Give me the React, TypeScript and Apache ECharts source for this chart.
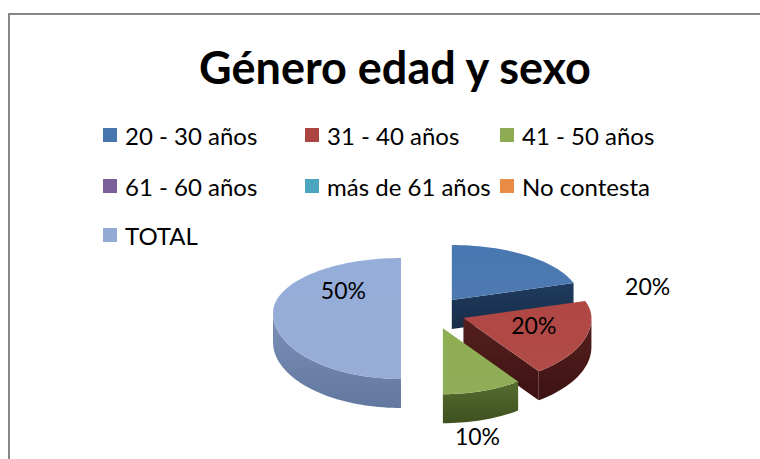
import React, { useEffect, useRef } from "react";
import * as echarts from "echarts";

const categories = [
  "20 - 30 años",
  "31 - 40 años",
  "41 - 50 años",
  "61 - 60 años",
  "más de 61 años",
  "No contesta",
  "TOTAL",
];
const values = [2, 2, 1, 0, 0, 0, 5];
const percentLabels = ["20%", "20%", "10%", "0%", "0%", "0%", "50%"];
const topColors = ["#4775ae", "#ad4542", "#8cab52", "#7a5f9b", "#4aa6be", "#e88c45", "#93aad5"];
const sideColors = ["#1f3b5e", "#55201e", "#566c2e", "#3f3050", "#245663", "#7b4a22", "#7a90b9"];
const sideDark = ["#172c47", "#3d1212", "#3e5120", "#2d2239", "#173c45", "#5a3516", "#63789e"];

// label placement (in ellipse-normalized units from each slice's apex)
const labelOffsets: [number, number][] = [
  [1.53, -0.25],
  [0.55, 0.1],
  [0.27, 1.64],
  [0, 0],
  [0, 0],
  [0, 0],
  [-0.45, -0.42],
];

const CX = 433;
const CY = 313;
const A = 128;
const B_BACK = 55;
const B_FRONT = 66;
const T = 29;
const EX = 32;
const EY = 16;

function proj(x0: number, y0: number, th: number, rho: number, dz: number): number[] {
  const c = Math.cos(th);
  const b = c > 0 ? B_BACK : B_FRONT;
  return [x0 + rho * A * Math.sin(th), y0 - rho * b * c + dz];
}

function arcPts(x0: number, y0: number, t0: number, t1: number, dz: number): number[][] {
  const n = Math.max(2, Math.ceil(((t1 - t0) / Math.PI) * 90));
  const pts: number[][] = [];
  for (let i = 0; i <= n; i++) {
    const t = t0 + ((t1 - t0) * i) / n;
    pts.push(proj(x0, y0, t, 1, dz));
  }
  return pts;
}

export default function App() {
  const ref = useRef<HTMLDivElement>(null);
  useEffect(() => {
    document.body.style.margin = "0";
    if (!ref.current) return;
    const chart = echarts.init(ref.current, null, { renderer: "svg" });
    const total = values.reduce((s, v) => s + v, 0);
    const starts: number[] = [];
    let acc = 0;
    values.forEach((v) => {
      starts.push(acc);
      acc += v;
    });

    const series = categories.map((name, si) => ({
      type: "custom",
      name,
      coordinateSystem: "none",
      itemStyle: { color: topColors[si] },
      data: [values[si]],
      renderItem: (params: any, api: any) => {
        const v = api.value(0);
        if (!v) return { type: "group", children: [] };
        const t0 = (starts[si] / total) * Math.PI * 2;
        const t1 = ((starts[si] + v) / total) * Math.PI * 2;
        const tm = (t0 + t1) / 2;
        const x0 = CX + EX * Math.sin(tm);
        const y0 = CY - EY * Math.cos(tm);
        const children: any[] = [];
        const sideFill = {
          type: "linear",
          x: 0,
          y: 0,
          x2: 0,
          y2: 1,
          colorStops: [
            { offset: 0, color: sideColors[si] },
            { offset: 1, color: sideDark[si] },
          ],
        };
        const f0 = Math.max(t0, Math.PI / 2);
        const f1 = Math.min(t1, (Math.PI * 3) / 2);
        if (f1 > f0) {
          const top = arcPts(x0, y0, f0, f1, 0);
          const bot = arcPts(x0, y0, f0, f1, T).reverse();
          children.push({
            type: "polygon",
            z2: 1,
            shape: { points: top.concat(bot) },
            style: { fill: sideFill, stroke: null },
          });
        }
        const faces: number[] = [];
        if (Math.sin(t0) < -1e-6) faces.push(t0);
        if (Math.sin(t1) > 1e-6) faces.push(t1);
        faces.forEach((th) => {
          const o = proj(x0, y0, th, 1, 0);
          children.push({
            type: "polygon",
            z2: 1,
            shape: { points: [[x0, y0], o, [o[0], o[1] + T], [x0, y0 + T]] },
            style: { fill: sideFill, stroke: null },
          });
        });
        const topPts = [[x0, y0]].concat(arcPts(x0, y0, t0, t1, 0));
        children.push({
          type: "polygon",
          z2: 10,
          shape: { points: topPts },
          style: {
            fill: {
              type: "linear",
              x: 0,
              y: 0,
              x2: 0,
              y2: 1,
              colorStops: [
                { offset: 0, color: echarts.color.lift(topColors[si], -0.02) },
                { offset: 1, color: echarts.color.lift(topColors[si], 0.04) },
              ],
            },
            stroke: null,
          },
        });
        const lo = labelOffsets[si];
        children.push({
          type: "text",
          z2: 20,
          x: x0 + lo[0] * A,
          y: y0 + lo[1] * (lo[1] > 0 ? B_FRONT : B_BACK),
          style: {
            text: percentLabels[si],
            fill: "#000",
            font: "23px Lato",
            align: "center",
            verticalAlign: "middle",
          },
        });
        return { type: "group", children };
      },
    }));

    const colX = [103, 305, 500];
    const rowY = [123, 174, 223];
    const legends = categories.map((name, i) => ({
      data: [name],
      left: colX[i % 3],
      top: rowY[Math.floor(i / 3)],
      icon: "rect",
      itemWidth: 14,
      itemHeight: 14,
      itemGap: 0,
      padding: 0,
      selectedMode: false,
      textStyle: { fontFamily: "Lato", fontSize: 24, color: "#000", padding: [0, 0, 0, 3] },
    }));

    chart.setOption({
      animation: false,
      title: {
        text: "Género edad y sexo",
        left: 390,
        top: 39,
        textAlign: "center",
        textStyle: { fontFamily: "Lato", fontWeight: "bold", fontSize: 45, color: "#000" },
      },
      legend: legends,
      graphic: [
        {
          type: "rect",
          shape: { x: 9, y: 14, width: 780, height: 480 },
          style: { fill: "none", stroke: "#878787", lineWidth: 2 },
          z: -1,
          silent: true,
        },
      ],
      series,
    });
    return () => chart.dispose();
  }, []);
  return <div ref={ref} style={{ width: 760, height: 459 }} />;
}
